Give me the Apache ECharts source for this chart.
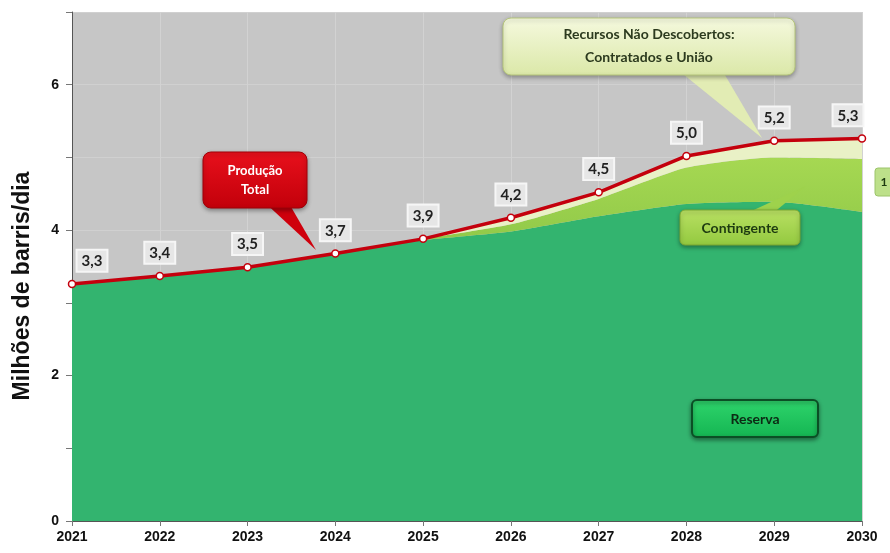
<!DOCTYPE html>
<html><head><meta charset="utf-8">
<script src="https://cdn.jsdelivr.net/npm/echarts@6/dist/echarts.min.js"></script>
<style>html,body{margin:0;padding:0;background:#fff}#c{width:890px;height:553px}</style>
</head><body><div id="c"></div>
<script>
const years = ['2021','2022','2023','2024','2025','2026','2027','2028','2029','2030'];
const reserva = [3.26, 3.37, 3.49, 3.68, 3.86, 3.98, 4.19, 4.36, 4.39, 4.25];
const contingente = [0, 0, 0, 0, 0.02, 0.10, 0.24, 0.50, 0.61, 0.73];
const naoDescobertos = [0, 0, 0, 0, 0, 0.09, 0.09, 0.16, 0.23, 0.28];
const producaoTotal = [3.26, 3.37, 3.49, 3.68, 3.88, 4.17, 4.52, 5.02, 5.23, 5.26];
const yTickLabels = ['0','2','4','6'];
const yTitle = 'Milhões de barris/dia';

const chart = echarts.init(document.getElementById('c'), null, {renderer:'canvas'});
const lblFont = 'Liberation Sans, Arial, sans-serif';
const calloutFont = 'Lato, Open Sans, sans-serif';

const totalData = producaoTotal.map((v,i)=>{
  const d = {value:v};
  if(i===0) d.label = {offset:[20,0]};
  if(i===producaoTotal.length-1) d.label = {offset:[-14,0]};
  return d;
});

chart.setOption({
  animation:false,
  grid:{left:72,right:28,top:12,bottom:32,show:true,backgroundColor:'#c6c6c6',borderWidth:0},
  xAxis:{type:'category',data:years,boundaryGap:false,
    axisLine:{lineStyle:{color:'#555',width:1}},
    axisTick:{show:true,length:5,lineStyle:{color:'#777'}},
    axisLabel:{color:'#111',fontFamily:lblFont,fontWeight:'bold',fontSize:14,margin:9,
      alignMinLabel:'center',alignMaxLabel:'center'},
    splitLine:{show:true,lineStyle:{color:'#d2d2d2',width:1}}},
  yAxis:{type:'value',min:0,max:7,interval:1,
    axisLine:{show:true,lineStyle:{color:'#555'}},
    axisTick:{show:true,length:6,lineStyle:{color:'#777'}},
    axisLabel:{color:'#111',fontFamily:lblFont,fontWeight:'bold',fontSize:14,margin:13,
      formatter:v=> yTickLabels.includes(String(v)) ? String(v) : ''},
    splitLine:{show:true,lineStyle:{color:'#d0d0d0',width:1}}},
  series:[
    {name:'Reserva',type:'line',stack:'t',data:reserva,symbol:'none',smooth:0.2,
      lineStyle:{width:0},areaStyle:{color:'#33b46f',opacity:1}},
    {name:'Contingente',type:'line',stack:'t',data:contingente,symbol:'none',smooth:0.2,
      lineStyle:{width:0},
      areaStyle:{opacity:1,color:new echarts.graphic.LinearGradient(0,0,0,1,[
        {offset:0,color:'#a6d852'},{offset:1,color:'#86c244'}])}},
    {name:'Recursos Não Descobertos',type:'line',stack:'t',data:naoDescobertos,symbol:'none',
      lineStyle:{width:0},areaStyle:{color:'#e9f1c6',opacity:1}},
    {name:'Produção Total',type:'line',data:totalData,z:5,
      symbol:'circle',symbolSize:7,
      itemStyle:{color:'#ffffff',borderColor:'#c4000d',borderWidth:1.5},
      lineStyle:{color:'#c4000d',width:3.5},
      label:{show:true,position:'top',distance:9,
        formatter:p=>p.value.toFixed(1).replace('.',','),
        fontFamily:calloutFont,fontWeight:'bold',fontSize:15,color:'#222',
        backgroundColor:'#e6e6e6',borderColor:'#f6f6f6',borderWidth:2,
        padding:[3,4,2,4]}}
  ],
  graphic:[
    {type:'text',x:23,y:286,rotation:Math.PI/2,
      style:{text:yTitle,fill:'#111',font:'bold 23px '+lblFont,align:'center',verticalAlign:'middle'},z:12},
    // Produção Total callout
    {type:'polygon',shape:{points:[[262,200],[287,200],[316,250]]},style:{fill:'#cf000c'},z:10},
    {type:'rect',shape:{x:203,y:152,width:104,height:56,r:8},
      style:{fill:new echarts.graphic.LinearGradient(0,0,0,1,[{offset:0,color:'#e8101c'},{offset:1,color:'#c2000a'}]),
        stroke:'#a00008',lineWidth:1,shadowBlur:4,shadowColor:'rgba(0,0,0,0.35)',shadowOffsetY:2},z:11},
    {type:'text',x:255,y:180,style:{text:'Produção\nTotal',fill:'#ffffff',font:'bold 13px '+calloutFont,
      align:'center',verticalAlign:'middle',lineHeight:19},z:12},
    // Recursos não descobertos callout
    {type:'polygon',shape:{points:[[678,70],[722,70],[762,138]]},style:{fill:'#e2ecb4'},z:10},
    {type:'rect',shape:{x:503,y:18,width:292,height:57,r:8},
      style:{fill:new echarts.graphic.LinearGradient(0,0,0,1,[{offset:0,color:'#f5f9de'},{offset:1,color:'#dbe8a8'}]),
        stroke:'#b5c57a',lineWidth:1,shadowBlur:4,shadowColor:'rgba(0,0,0,0.3)',shadowOffsetY:2},z:11},
    {type:'text',x:649,y:46,style:{text:'Recursos Não Descobertos:\nContratados e União',fill:'#2c3a1e',
      font:'bold 14px '+calloutFont,align:'center',verticalAlign:'middle',lineHeight:23},z:12},
    // Contingente callout
    {type:'polygon',shape:{points:[[745,214],[772,214],[806,186]]},style:{fill:'#9ed24c'},z:10},
    {type:'rect',shape:{x:680,y:210,width:120,height:35,r:5},
      style:{fill:new echarts.graphic.LinearGradient(0,0,0,1,[{offset:0,color:'#b9e063'},{offset:1,color:'#93c93f'}]),
        stroke:'#7aa833',lineWidth:1,shadowBlur:4,shadowColor:'rgba(0,0,0,0.35)',shadowOffsetY:2},z:11},
    {type:'text',x:740,y:228,style:{text:'Contingente',fill:'#1d3a10',font:'bold 14px '+calloutFont,
      align:'center',verticalAlign:'middle'},z:12},
    // Reserva label
    {type:'rect',shape:{x:692,y:400,width:126,height:37,r:5},
      style:{fill:new echarts.graphic.LinearGradient(0,0,0,1,[{offset:0,color:'#2fd56c'},{offset:1,color:'#14b552'}]),
        stroke:'#0b4f25',lineWidth:2,shadowBlur:4,shadowColor:'rgba(0,0,0,0.4)',shadowOffsetY:2},z:11},
    {type:'text',x:755,y:419,style:{text:'Reserva',fill:'#0c2a14',font:'bold 14px '+calloutFont,
      align:'center',verticalAlign:'middle'},z:12},
    // cut-off label at right edge
    {type:'rect',shape:{x:875,y:168,width:24,height:28,r:3},
      style:{fill:'#bde08a',stroke:'#9cc46a',lineWidth:1},z:11},
    {type:'text',x:884,y:182,style:{text:'1',fill:'#1d3a10',font:'bold 12px '+calloutFont,
      align:'center',verticalAlign:'middle'},z:12}
  ]
});
</script></body></html>
